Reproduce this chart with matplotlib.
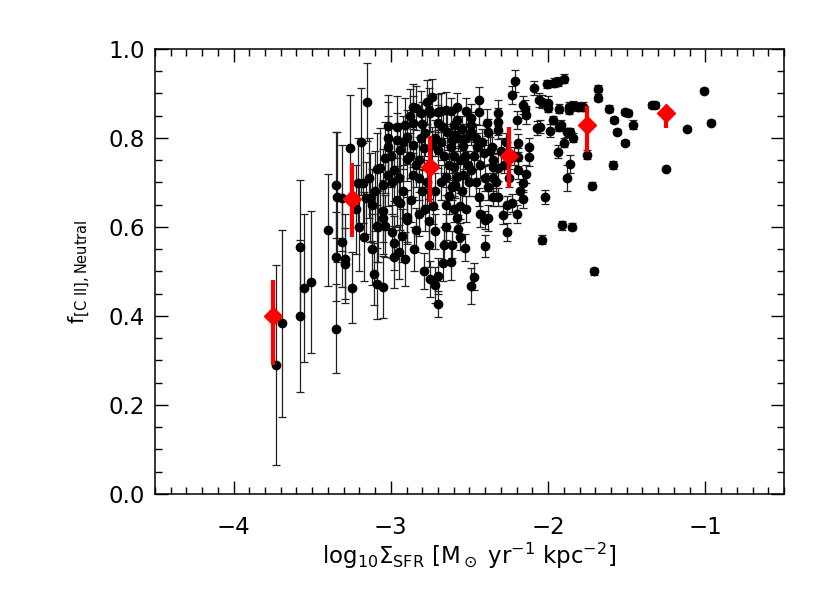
import matplotlib
matplotlib.use('Agg')
import matplotlib.pyplot as plt
from matplotlib.ticker import MultipleLocator

# log10 Sigma_SFR, f_[CII],neutral and its error
sfr = [-3.73, -3.69, -3.58, -3.58, -3.55, -3.51, -3.40, -3.35, -3.35, -3.35,
       -3.34, -3.31, -3.31, -3.29, -3.29, -3.26, -3.25, -3.21, -3.19, -3.18,
       -3.17, -3.16, -3.15, -3.13, -3.12, -3.11, -3.09, -3.09, -3.07, -3.05,
       -3.05, -3.05, -3.05, -3.04, -3.02, -3.02, -3.02, -2.99, -2.98, -2.98,
       -2.98, -2.96, -2.96, -2.95, -2.95, -2.94, -2.94, -2.91, -2.91, -2.90,
       -2.90, -2.90, -2.90, -2.86, -2.86, -2.86, -2.86, -2.84, -2.84, -2.82,
       -2.82, -2.82, -2.81, -2.81, -2.79, -2.79, -2.76, -2.76, -2.75, -2.75,
       -2.74, -2.74, -2.73, -2.72, -2.70, -2.70, -2.70, -2.70, -2.70, -2.70,
       -2.67, -2.67, -2.65, -2.65, -2.65, -2.65, -2.64, -2.62, -2.61, -2.61,
       -2.61, -2.60, -2.60, -2.59, -2.59, -2.58, -2.58, -2.57, -2.56, -2.56,
       -2.56, -2.54, -2.54, -2.53, -2.49, -2.49, -2.49, -2.49, -2.49, -2.47,
       -2.45, -2.44, -2.44, -2.44, -2.41, -2.40, -2.40, -2.40, -2.39, -2.38,
       -2.37, -2.35, -2.35, -2.35, -2.35, -2.32, -2.32, -2.32, -2.32, -2.32,
       -2.29, -2.26, -2.26, -2.23, -2.23, -2.21, -2.20, -2.19, -2.19, -2.19,
       -2.16, -2.16, -2.16, -2.15, -2.14, -2.14, -2.12, -2.12, -2.09, -2.07,
       -2.06, -2.05, -2.04, -2.04, -2.02, -2.01, -2.00, -2.00, -1.99, -1.97,
       -1.96, -1.94, -1.94, -1.93, -1.93, -1.92, -1.91, -1.90, -1.90, -1.88,
       -1.88, -1.87, -1.87, -1.86, -1.86, -1.85, -1.84, -1.84, -1.81, -1.78,
       -1.75, -1.72, -1.71, -1.68, -1.68, -1.61, -1.59, -1.58, -1.56, -1.51,
       -1.51, -1.49, -1.46, -1.34, -1.32, -1.25, -1.12, -1.01, -0.965,
       -3.09, -3.04, -3.02, -3.08, -2.88, -2.92, -2.88, -2.84, -2.80, -2.78,
       -2.77, -2.72, -2.68, -2.66, -2.63, -2.62, -2.60, -2.58, -2.57, -2.55,
       -2.53, -2.52, -2.51, -2.50, -2.47, -2.46, -2.43, -2.42, -2.38, -2.36,
       -2.33, -2.30, -2.28, -2.27, -2.25, -2.22, -2.18, -2.20, -2.92, -2.96,
       -2.87, -2.80, -2.78, -2.72, -2.68, -2.63, -2.60, -2.55, -2.52, -2.46,
       -2.43, -2.38, -3.00, -2.99, -3.10, -3.14, -3.22, -3.20, -3.12, -2.93,
       -2.85, -2.76, -2.72, -2.66, -2.62, -2.68, -2.77, -2.58, -2.52]
fcii = [0.290, 0.384, 0.400, 0.555, 0.463, 0.476, 0.593, 0.371, 0.694, 0.533,
        0.667, 0.665, 0.566, 0.528, 0.517, 0.777, 0.463, 0.699, 0.791, 0.699,
        0.578, 0.665, 0.881, 0.665, 0.649, 0.494, 0.472, 0.602, 0.733, 0.694,
        0.636, 0.620, 0.465, 0.602, 0.827, 0.800, 0.780, 0.589, 0.564, 0.533,
        0.728, 0.825, 0.796, 0.544, 0.710, 0.773, 0.654, 0.829, 0.528, 0.802,
        0.753, 0.622, 0.616, 0.834, 0.784, 0.717, 0.870, 0.867, 0.593, 0.751,
        0.710, 0.629, 0.856, 0.800, 0.778, 0.501, 0.613, 0.863, 0.856, 0.483,
        0.892, 0.784, 0.647, 0.470, 0.858, 0.834, 0.773, 0.490, 0.427, 0.858,
        0.825, 0.519, 0.863, 0.712, 0.649, 0.600, 0.813, 0.860, 0.560, 0.690,
        0.796, 0.829, 0.735, 0.807, 0.694, 0.620, 0.712, 0.596, 0.578, 0.647,
        0.751, 0.782, 0.717, 0.553, 0.845, 0.829, 0.813, 0.728, 0.467, 0.488,
        0.780, 0.885, 0.858, 0.667, 0.766, 0.710, 0.616, 0.557, 0.834, 0.813,
        0.771, 0.751, 0.735, 0.710, 0.667, 0.856, 0.836, 0.818, 0.733, 0.667,
        0.627, 0.649, 0.589, 0.654, 0.897, 0.928, 0.629, 0.757, 0.728, 0.789,
        0.874, 0.663, 0.699, 0.865, 0.852, 0.719, 0.780, 0.757, 0.912, 0.822,
        0.885, 0.825, 0.881, 0.571, 0.667, 0.921, 0.879, 0.867, 0.816, 0.840,
        0.924, 0.926, 0.769, 0.825, 0.865, 0.829, 0.604, 0.933, 0.789, 0.813,
        0.710, 0.870, 0.863, 0.813, 0.742, 0.600, 0.872, 0.800, 0.870, 0.870,
        0.762, 0.692, 0.500, 0.910, 0.890, 0.865, 0.739, 0.840, 0.814, 0.789,
        0.858, 0.856, 0.829, 0.874, 0.874, 0.730, 0.820, 0.906, 0.834,
        0.730, 0.755, 0.717, 0.600, 0.850, 0.790, 0.760, 0.740, 0.830, 0.810,
        0.700, 0.800, 0.790, 0.760, 0.740, 0.780, 0.760, 0.840, 0.800, 0.820,
        0.760, 0.800, 0.740, 0.700, 0.760, 0.800, 0.740, 0.790, 0.690, 0.780,
        0.700, 0.770, 0.740, 0.790, 0.710, 0.760, 0.680, 0.840, 0.680, 0.660,
        0.660, 0.680, 0.640, 0.680, 0.700, 0.670, 0.640, 0.680, 0.640, 0.700,
        0.630, 0.620, 0.760, 0.700, 0.680, 0.710, 0.640, 0.600, 0.550, 0.580,
        0.550, 0.560, 0.590, 0.560, 0.520, 0.860, 0.880, 0.870, 0.860]
ferr = [0.225, 0.210, 0.170, 0.150, 0.166, 0.160, 0.126, 0.100, 0.120, 0.100,
        0.145, 0.120, 0.100, 0.100, 0.080, 0.120, 0.080, 0.100, 0.120, 0.090,
        0.100, 0.080, 0.087, 0.100, 0.080, 0.070, 0.080, 0.080, 0.090, 0.080,
        0.070, 0.080, 0.070, 0.070, 0.070, 0.080, 0.070, 0.060, 0.060, 0.070,
        0.070, 0.070, 0.060, 0.060, 0.060, 0.060, 0.060, 0.060, 0.060, 0.060,
        0.050, 0.060, 0.050, 0.060, 0.050, 0.050, 0.050, 0.050, 0.050, 0.050,
        0.050, 0.050, 0.050, 0.050, 0.050, 0.040, 0.050, 0.050, 0.040, 0.040,
        0.040, 0.040, 0.040, 0.040, 0.040, 0.040, 0.040, 0.040, 0.030, 0.040,
        0.040, 0.040, 0.040, 0.040, 0.040, 0.030, 0.040, 0.030, 0.030, 0.030,
        0.030, 0.030, 0.030, 0.030, 0.030, 0.030, 0.030, 0.030, 0.030, 0.030,
        0.030, 0.030, 0.030, 0.030, 0.030, 0.030, 0.030, 0.030, 0.040, 0.030,
        0.030, 0.030, 0.030, 0.020, 0.030, 0.030, 0.020, 0.025, 0.030, 0.030,
        0.030, 0.030, 0.030, 0.030, 0.020, 0.030, 0.030, 0.020, 0.030, 0.020,
        0.020, 0.020, 0.020, 0.020, 0.020, 0.025, 0.020, 0.020, 0.020, 0.020,
        0.020, 0.020, 0.020, 0.020, 0.020, 0.020, 0.020, 0.020, 0.015, 0.015,
        0.015, 0.015, 0.015, 0.010, 0.015, 0.010, 0.015, 0.010, 0.015, 0.010,
        0.010, 0.010, 0.015, 0.010, 0.010, 0.010, 0.010, 0.010, 0.010, 0.010,
        0.030, 0.010, 0.010, 0.010, 0.020, 0.008, 0.010, 0.010, 0.010, 0.010,
        0.010, 0.008, 0.008, 0.008, 0.008, 0.008, 0.008, 0.006, 0.006, 0.006,
        0.006, 0.006, 0.010, 0.006, 0.006, 0.005, 0.004, 0.005, 0.005,
        0.080, 0.080, 0.070, 0.080, 0.060, 0.060, 0.050, 0.050, 0.050, 0.050,
        0.050, 0.040, 0.040, 0.040, 0.040, 0.040, 0.030, 0.030, 0.030, 0.030,
        0.030, 0.030, 0.030, 0.030, 0.030, 0.030, 0.030, 0.030, 0.030, 0.030,
        0.030, 0.030, 0.020, 0.020, 0.020, 0.020, 0.020, 0.020, 0.060, 0.060,
        0.050, 0.050, 0.050, 0.040, 0.040, 0.040, 0.030, 0.030, 0.030, 0.030,
        0.030, 0.030, 0.070, 0.070, 0.090, 0.090, 0.100, 0.100, 0.080, 0.060,
        0.050, 0.050, 0.040, 0.040, 0.040, 0.040, 0.050, 0.030, 0.030]

# binned medians (red diamonds) with asymmetric ranges
bin_x = [-3.75, -3.25, -2.75, -2.25, -1.75, -1.25]
bin_y = [0.400, 0.663, 0.735, 0.760, 0.829, 0.856]
bin_lo = [0.290, 0.578, 0.656, 0.688, 0.769, 0.822]
bin_hi = [0.480, 0.744, 0.805, 0.825, 0.872, 0.872]

plt.rcParams['font.family'] = 'DejaVu Sans'
plt.rcParams['mathtext.fontset'] = 'dejavusans'

fig = plt.figure(figsize=(8.3, 5.93), dpi=100)
ax = fig.add_axes([0.1867, 0.167, 0.7579, 0.7507])

ax.errorbar(sfr, fcii, yerr=ferr, fmt='o', color='black', ms=6,
            ecolor='#222222', elinewidth=0.9, capsize=3, capthick=0.9, zorder=2)

err_lo = [y - lo for y, lo in zip(bin_y, bin_lo)]
err_hi = [hi - y for y, hi in zip(bin_y, bin_hi)]
ax.errorbar(bin_x, bin_y, yerr=[err_lo, err_hi], fmt='D', color='red', ms=9,
            ecolor='red', elinewidth=3, capsize=0, zorder=3)

ax.set_xlim(-4.5, -0.5)
ax.set_ylim(0.0, 1.0)
ax.xaxis.set_major_locator(MultipleLocator(1))
ax.xaxis.set_minor_locator(MultipleLocator(0.1))
ax.yaxis.set_major_locator(MultipleLocator(0.2))
ax.yaxis.set_minor_locator(MultipleLocator(0.05))
ax.xaxis.set_major_formatter(plt.FuncFormatter(lambda v, p: '\u2212%d' % abs(v) if v < 0 else '%d' % v))
ax.yaxis.set_major_formatter(plt.FuncFormatter(lambda v, p: '%.1f' % v))

ax.tick_params(which='both', direction='in', top=True, right=True, width=1)
ax.tick_params(which='major', length=9.5)
ax.tick_params(which='minor', length=5)
ax.tick_params(axis='x', which='major', labelsize=16.5, pad=16)
ax.tick_params(axis='y', which='major', labelsize=16.5, pad=7)
for s in ax.spines.values():
    s.set_linewidth(1.1)

ax.set_xlabel(r'log$_{10}\Sigma_{\rm SFR}$ [M$_\odot$ yr$^{-1}$ kpc$^{-2}$]', fontsize=16.5, labelpad=1)
ax.set_ylabel(r'f$_{\rm [C\ II],Neutral}$', fontsize=15, labelpad=12)

fig.savefig('out.png', dpi=100)
